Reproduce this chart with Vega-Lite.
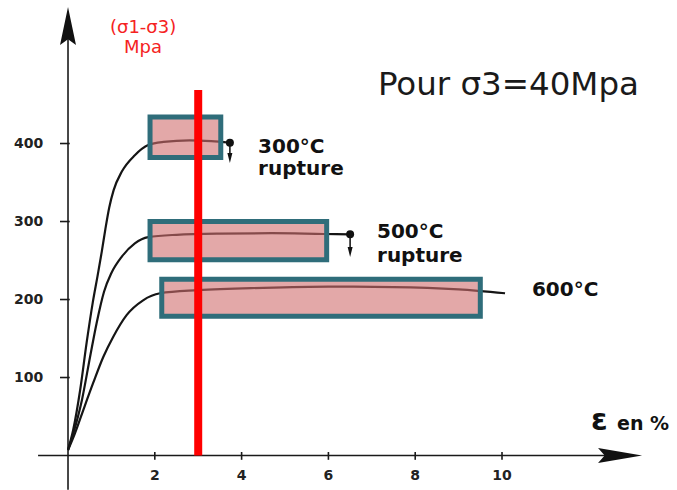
{
  "$schema": "https://vega.github.io/schema/vega-lite/v6.json",
  "width": 677,
  "height": 490,
  "autosize": {"type": "none"},
  "padding": 0,
  "background": "white",
  "config": {"view": {"stroke": null}},
  "datasets": {
    "rules": [
      {"x": -0.69, "x2": 12.4, "y": 0, "y2": 0},
      {"x": 0, "x2": 0, "y": -44, "y2": 545},
      {"x": -0.184, "x2": 0.04, "y": 100, "y2": 100},
      {"x": -0.184, "x2": 0.04, "y": 200, "y2": 200},
      {"x": -0.184, "x2": 0.04, "y": 300, "y2": 300},
      {"x": -0.184, "x2": 0.04, "y": 400, "y2": 400},
      {"x": 2, "x2": 2, "y": 4.5, "y2": -5.5},
      {"x": 4, "x2": 4, "y": 4.5, "y2": -5.5},
      {"x": 6, "x2": 6, "y": 4.5, "y2": -5.5},
      {"x": 8, "x2": 8, "y": 4.5, "y2": -5.5},
      {"x": 10, "x2": 10, "y": 4.5, "y2": -5.5},
      {"x": 3.73, "x2": 3.73, "y": 401, "y2": 382},
      {"x": 6.5, "x2": 6.5, "y": 283.6, "y2": 262}
    ],
    "curves": [
      {"curve": "300", "x": 0, "y": 7},
      {"curve": "300", "x": 0.12, "y": 33},
      {"curve": "300", "x": 0.28, "y": 84},
      {"curve": "300", "x": 0.43, "y": 145},
      {"curve": "300", "x": 0.57, "y": 196},
      {"curve": "300", "x": 0.68, "y": 230},
      {"curve": "300", "x": 0.78, "y": 262},
      {"curve": "300", "x": 0.86, "y": 290},
      {"curve": "300", "x": 0.95, "y": 318},
      {"curve": "300", "x": 1.05, "y": 340},
      {"curve": "300", "x": 1.24, "y": 364},
      {"curve": "300", "x": 1.54, "y": 385},
      {"curve": "300", "x": 1.85, "y": 398},
      {"curve": "300", "x": 2.2, "y": 402},
      {"curve": "300", "x": 2.8, "y": 404},
      {"curve": "300", "x": 3.3, "y": 403},
      {"curve": "300", "x": 3.73, "y": 401},
      {"curve": "500", "x": 0, "y": 7},
      {"curve": "500", "x": 0.12, "y": 28},
      {"curve": "500", "x": 0.32, "y": 71},
      {"curve": "500", "x": 0.51, "y": 127},
      {"curve": "500", "x": 0.66, "y": 170},
      {"curve": "500", "x": 0.83, "y": 210},
      {"curve": "500", "x": 1.0, "y": 234},
      {"curve": "500", "x": 1.24, "y": 255},
      {"curve": "500", "x": 1.54, "y": 272},
      {"curve": "500", "x": 1.85, "y": 280},
      {"curve": "500", "x": 2.5, "y": 283},
      {"curve": "500", "x": 3.5, "y": 284.5},
      {"curve": "500", "x": 4.7, "y": 285},
      {"curve": "500", "x": 5.9, "y": 284},
      {"curve": "500", "x": 6.5, "y": 283.6},
      {"curve": "600", "x": 0, "y": 7},
      {"curve": "600", "x": 0.16, "y": 28.5},
      {"curve": "600", "x": 0.35, "y": 58},
      {"curve": "600", "x": 0.58, "y": 93},
      {"curve": "600", "x": 0.81, "y": 126},
      {"curve": "600", "x": 1.04, "y": 152},
      {"curve": "600", "x": 1.35, "y": 180},
      {"curve": "600", "x": 1.73, "y": 199},
      {"curve": "600", "x": 2.12, "y": 208},
      {"curve": "600", "x": 3.0, "y": 212},
      {"curve": "600", "x": 4.5, "y": 215},
      {"curve": "600", "x": 6.0, "y": 216.5},
      {"curve": "600", "x": 7.5, "y": 216},
      {"curve": "600", "x": 9.0, "y": 213},
      {"curve": "600", "x": 10.07, "y": 208}
    ],
    "boxes": [
      {"x": 1.89, "x2": 3.52, "y": 434, "y2": 382},
      {"x": 1.89, "x2": 5.96, "y": 300, "y2": 251},
      {"x": 2.16, "x2": 9.5, "y": 226, "y2": 178.5}
    ],
    "redline": [{"x": 3, "y": 0, "y2": 468.6}],
    "xarrow": [{"x": 12.72, "y": 0}],
    "yarrow": [{"x": 0, "y": 550.6}],
    "dots": [{"x": 3.73, "y": 401}, {"x": 6.5, "y": 283.6}],
    "downarrows": [{"x": 3.73, "y": 381.4}, {"x": 6.5, "y": 260.9}],
    "ylabels": [
      {"x": -0.57, "y": 100, "label": "100"},
      {"x": -0.57, "y": 200, "label": "200"},
      {"x": -0.57, "y": 300, "label": "300"},
      {"x": -0.57, "y": 400, "label": "400"}
    ],
    "xlabels": [
      {"x": 2, "y": -26.3, "label": "2"},
      {"x": 4, "y": -26.3, "label": "4"},
      {"x": 6, "y": -26.3, "label": "6"},
      {"x": 8, "y": -26.3, "label": "8"},
      {"x": 10, "y": -26.3, "label": "10"}
    ],
    "redtext": [
      {"x": 1.73, "y": 541.7, "label": "(σ1-σ3)"},
      {"x": 1.73, "y": 515.6, "label": "Mpa"}
    ],
    "title": [{"x": 7.14, "y": 462, "label": "Pour σ3=40Mpa"}],
    "boldlabels": [
      {"x": 4.38, "y": 387.8, "label": "300°C"},
      {"x": 4.38, "y": 359.6, "label": "rupture"},
      {"x": 7.12, "y": 278.8, "label": "500°C"},
      {"x": 7.12, "y": 248.5, "label": "rupture"},
      {"x": 10.69, "y": 204.5, "label": "600°C"}
    ],
    "eps": [{"x": 12.05, "y": 32.7, "label": "ε"}],
    "enpct": [{"x": 12.65, "y": 32.7, "label": "en %"}]
  },
  "encoding": {
    "x": {"field": "x", "type": "quantitative", "scale": {"domain": [-1.567, 14.032], "nice": false, "zero": false}, "axis": null},
    "y": {"field": "y", "type": "quantitative", "scale": {"domain": [-44.2, 584.0], "nice": false, "zero": false}, "axis": null}
  },
  "layer": [
    {
      "data": {"name": "rules"},
      "mark": {"type": "rule", "color": "#1a1a1a", "strokeWidth": 1.6},
      "encoding": {"x2": {"field": "x2"}, "y2": {"field": "y2"}}
    },
    {
      "data": {"name": "curves"},
      "mark": {"type": "line", "color": "#151515", "strokeWidth": 2.2, "interpolate": "monotone"},
      "encoding": {"detail": {"field": "curve"}, "order": {"field": "x", "type": "quantitative"}}
    },
    {
      "data": {"name": "boxes"},
      "mark": {"type": "rect", "fill": "#D06E6E", "fillOpacity": 0.6, "stroke": "#2F6D7A", "strokeWidth": 5},
      "encoding": {"x2": {"field": "x2"}, "y2": {"field": "y2"}}
    },
    {
      "data": {"name": "redline"},
      "mark": {"type": "rule", "color": "#FF0000", "strokeWidth": 8},
      "encoding": {"y2": {"field": "y2"}}
    },
    {
      "data": {"name": "xarrow"},
      "mark": {"type": "point", "shape": "M1,0 L-1,-0.34 L-0.7,0 L-1,0.34 Z", "size": 1936, "filled": true, "color": "#111111", "opacity": 1},
      "encoding": {}
    },
    {
      "data": {"name": "yarrow"},
      "mark": {"type": "point", "shape": "M0,-1 L0.42,1 L0,0.7 L-0.42,1 Z", "size": 1444, "filled": true, "color": "#111111", "opacity": 1},
      "encoding": {}
    },
    {
      "data": {"name": "dots"},
      "mark": {"type": "point", "shape": "circle", "size": 64, "filled": true, "color": "#111111", "opacity": 1},
      "encoding": {}
    },
    {
      "data": {"name": "downarrows"},
      "mark": {"type": "point", "shape": "M-0.5,-1 L0.5,-1 L0,1 Z", "size": 100, "filled": true, "color": "#111111", "opacity": 1},
      "encoding": {}
    },
    {
      "data": {"name": "ylabels"},
      "mark": {"type": "text", "font": "DejaVu Sans", "fontWeight": "bold", "fontSize": 14, "align": "right", "baseline": "middle", "color": "#222222"},
      "encoding": {"text": {"field": "label"}}
    },
    {
      "data": {"name": "xlabels"},
      "mark": {"type": "text", "font": "DejaVu Sans", "fontWeight": "bold", "fontSize": 14, "align": "center", "baseline": "middle", "color": "#222222"},
      "encoding": {"text": {"field": "label"}}
    },
    {
      "data": {"name": "redtext"},
      "mark": {"type": "text", "font": "DejaVu Sans", "fontSize": 18, "align": "center", "baseline": "alphabetic", "color": "#F52222"},
      "encoding": {"text": {"field": "label"}}
    },
    {
      "data": {"name": "title"},
      "mark": {"type": "text", "font": "DejaVu Sans", "fontSize": 32.5, "align": "left", "baseline": "alphabetic", "color": "#1a1a1a"},
      "encoding": {"text": {"field": "label"}}
    },
    {
      "data": {"name": "boldlabels"},
      "mark": {"type": "text", "font": "DejaVu Sans", "fontWeight": "bold", "fontSize": 20, "align": "left", "baseline": "alphabetic", "color": "#111111"},
      "encoding": {"text": {"field": "label"}}
    },
    {
      "data": {"name": "eps"},
      "mark": {"type": "text", "font": "DejaVu Sans", "fontWeight": "bold", "fontSize": 30, "align": "left", "baseline": "alphabetic", "color": "#111111"},
      "encoding": {"text": {"field": "label"}}
    },
    {
      "data": {"name": "enpct"},
      "mark": {"type": "text", "font": "DejaVu Sans", "fontWeight": "bold", "fontSize": 19, "align": "left", "baseline": "alphabetic", "color": "#111111"},
      "encoding": {"text": {"field": "label"}}
    }
  ]
}
